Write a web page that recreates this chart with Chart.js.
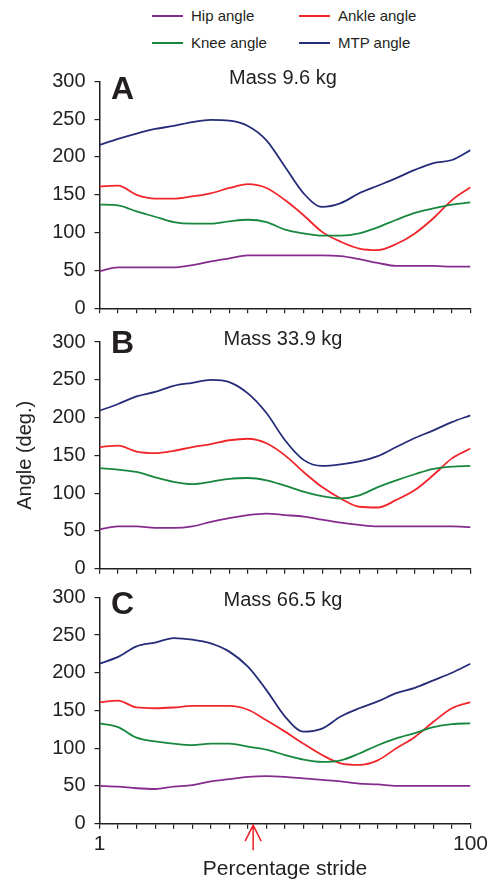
<!DOCTYPE html>
<html><head><meta charset="utf-8">
<script src="https://cdn.jsdelivr.net/npm/chart.js@4.4.1/dist/chart.umd.min.js"></script>
<style>
html,body{margin:0;padding:0;background:#fff;}
body{width:494px;height:882px;position:relative;overflow:hidden;font-family:'Liberation Sans',Arial,sans-serif;}
canvas{position:absolute;left:0;top:0;}
.leg{position:absolute;height:20px;font-size:15px;color:#231f20;line-height:20px;white-space:nowrap;}
.leg i{position:absolute;left:0;top:9px;width:31px;height:2px;}
.leg span{position:absolute;left:39px;top:0;}
</style></head><body>
<div id="legend"></div>
<canvas id="cA" width="494" height="882"></canvas>
<canvas id="cB" width="494" height="882"></canvas>
<canvas id="cC" width="494" height="882"></canvas>
<script>
// ---- data ----
const seriesNames = ['Hip angle', 'Ankle angle', 'Knee angle', 'MTP angle'];
const xValues = [1, 5.95, 10.9, 15.85, 20.8, 25.75, 30.7, 35.65, 40.6, 45.55, 50.5, 55.45, 60.4, 65.35, 70.3, 75.25, 80.2, 85.15, 90.1, 95.05, 100];
const xLabelTicks = [1, 100];
const yTicks = [0, 50, 100, 150, 200, 250, 300];
const arrowX = 42;

const hipA   = [49, 54, 54, 54, 54, 57, 62, 66, 70, 70, 70, 70, 70, 69, 65, 60, 56, 56, 56, 55, 55];
const kneeA  = [137, 136, 128, 121, 114, 112, 112, 115, 117, 114, 104, 99, 96, 96, 99, 107, 117, 126, 132, 137, 140];
const ankleA = [161, 162, 150, 145, 145, 148, 152, 159, 164, 159, 143, 123, 101, 88, 79, 77, 85, 99, 119, 143, 160];
const mtpA   = [216, 224, 231, 237, 241, 246, 249, 248, 241, 222, 187, 152, 134, 139, 152, 162, 172, 183, 192, 196, 209];

const hipB   = [52, 56, 56, 54, 54, 56, 62, 67, 71, 73, 71, 69, 65, 61, 58, 56, 56, 56, 56, 56, 55];
const kneeB  = [133, 131, 128, 121, 115, 112, 115, 119, 120, 117, 110, 102, 96, 93, 97, 108, 117, 125, 132, 135, 136];
const ankleB = [161, 163, 155, 153, 156, 161, 165, 170, 172, 166, 150, 128, 108, 93, 82, 81, 91, 104, 124, 146, 159];
const mtpB   = [209, 218, 228, 234, 242, 246, 250, 247, 232, 206, 170, 144, 136, 138, 142, 149, 161, 173, 183, 194, 203];

const hipC   = [50, 49, 47, 46, 49, 51, 56, 59, 62, 63, 62, 60, 58, 56, 53, 52, 50, 50, 50, 50, 50];
const kneeC  = [133, 128, 114, 109, 106, 104, 106, 106, 102, 98, 91, 85, 82, 84, 93, 104, 113, 120, 128, 132, 133];
const ankleC = [161, 163, 154, 153, 154, 156, 156, 156, 151, 137, 122, 106, 91, 80, 78, 84, 100, 115, 135, 153, 161];
const mtpC   = [212, 221, 235, 240, 246, 244, 239, 228, 208, 177, 142, 122, 126, 142, 153, 162, 173, 180, 190, 200, 212];

const panelLetters = ['A', 'B', 'C'];
const panelTitles = ['Mass 9.6 kg', 'Mass 33.9 kg', 'Mass 66.5 kg'];
const yTitle = 'Angle (deg.)';
const xTitle = 'Percentage stride';

// ---- styling ----
const colors = {hip: '#852c8e', ankle: '#f0262b', knee: '#17873d', mtp: '#252c78'};
const ink = '#231f20';
const FONT = "'Liberation Sans', Arial, Helvetica, sans-serif";

// legend (HTML)
const legendLayout = [
  {name: seriesNames[0], color: colors.hip, left: 152, top: 6},
  {name: seriesNames[1], color: colors.ankle, left: 299, top: 6},
  {name: seriesNames[2], color: colors.knee, left: 152, top: 33},
  {name: seriesNames[3], color: colors.mtp, left: 299, top: 33}
];
const legEl = document.getElementById('legend');
legendLayout.forEach(l => {
  const d = document.createElement('div');
  d.className = 'leg';
  d.style.left = l.left + 'px';
  d.style.top = l.top + 'px';
  d.innerHTML = '<i style="background:' + l.color + '"></i><span>' + l.name + '</span>';
  legEl.appendChild(d);
});

const pts = (arr) => arr.map((v, i) => ({x: xValues[i], y: v}));

const panelText = {
  id: 'panelText',
  afterDraw(chart, args, opts) {
    const {ctx, chartArea} = chart;
    ctx.save();
    ctx.fillStyle = ink;
    ctx.textBaseline = 'alphabetic';
    ctx.textAlign = 'left';
    ctx.font = 'bold 32px ' + FONT;
    ctx.fillText(opts.letter, chartArea.left + 11.5, chartArea.top + opts.letterBase);
    ctx.textAlign = 'center';
    ctx.font = '20px ' + FONT;
    ctx.fillText(opts.title, 283, chartArea.top + opts.titleBase);
    if (opts.arrow) {
      const x = chart.scales.x.getPixelForValue(arrowX);
      const y0 = chartArea.bottom + 1.5;
      ctx.strokeStyle = '#ee1d25';
      ctx.lineWidth = 1.5;
      ctx.beginPath();
      ctx.moveTo(x, y0); ctx.lineTo(x, y0 + 25);
      ctx.moveTo(x - 8, y0 + 16); ctx.lineTo(x, y0); ctx.lineTo(x + 8, y0 + 16);
      ctx.stroke();
    }
    ctx.restore();
  }
};

function makePanel(id, idx, hip, knee, ankle, mtp, geo) {
  const isLast = idx === 2;
  const ds = (label, data, color) => ({
    label, data: pts(data), borderColor: color, backgroundColor: color,
    borderWidth: 1.8, pointRadius: 0, tension: 0.4, cubicInterpolationMode: 'monotone', fill: false
  });
  return new Chart(document.getElementById(id), {
    type: 'line',
    data: {datasets: [
      ds(seriesNames[0], hip, colors.hip),
      ds(seriesNames[2], knee, colors.knee),
      ds(seriesNames[1], ankle, colors.ankle),
      ds(seriesNames[3], mtp, colors.mtp)
    ]},
    options: {
      responsive: false, animation: false, events: [],
      layout: {padding: {left: 0, right: 23.5, top: geo.top, bottom: 882 - geo.bottom - geo.xh}},
      plugins: {
        legend: {display: false}, tooltip: {enabled: false}, title: {display: false},
        panelText: {letter: panelLetters[idx], title: panelTitles[idx], letterBase: geo.letterBase, titleBase: geo.titleBase, arrow: isLast}
      },
      scales: {
        x: {
          type: 'linear', min: 1, max: 100,
          afterBuildTicks: s => { s.ticks = xValues.map(v => ({value: v})); },
          afterFit: s => { s.height = geo.xh; },
          grid: {drawOnChartArea: false, drawTicks: true, tickLength: 5, color: ink, lineWidth: 1.2},
          border: {display: true, color: ink, width: 1.5},
          ticks: {
            display: isLast, autoSkip: false, maxRotation: 0, padding: 3, color: ink,
            font: {family: FONT, size: 21},
            callback: (v) => xLabelTicks.includes(v) ? String(v) : ''
          },
          title: {display: isLast, text: xTitle, color: ink, font: {family: FONT, size: 21}, padding: {top: 0, bottom: 0}}
        },
        y: {
          min: 0, max: 300,
          afterBuildTicks: s => { s.ticks = yTicks.map(v => ({value: v})); },
          afterFit: s => { s.width = 99.5; },
          grid: {drawOnChartArea: false, drawTicks: true, tickLength: 5, color: ink, lineWidth: 1.2},
          border: {display: true, color: ink, width: 1.5},
          ticks: {padding: 9, color: ink, font: {family: FONT, size: 20}},
          title: {display: idx === 1, text: yTitle, color: ink, font: {family: FONT, size: 20}, padding: {top: 13, bottom: 0}}
        }
      }
    },
    plugins: [panelText]
  });
}

makePanel('cA', 0, hipA, kneeA, ankleA, mtpA, {top: 81.3, bottom: 308.3, xh: 10, letterBase: 17.7, titleBase: 3});
makePanel('cB', 1, hipB, kneeB, ankleB, mtpB, {top: 342, bottom: 568.7, xh: 10, letterBase: 11.3, titleBase: 3});
makePanel('cC', 2, hipC, kneeC, ankleC, mtpC, {top: 597.3, bottom: 823.7, xh: 58, letterBase: 16.5, titleBase: 9});
</script>
</body></html>
